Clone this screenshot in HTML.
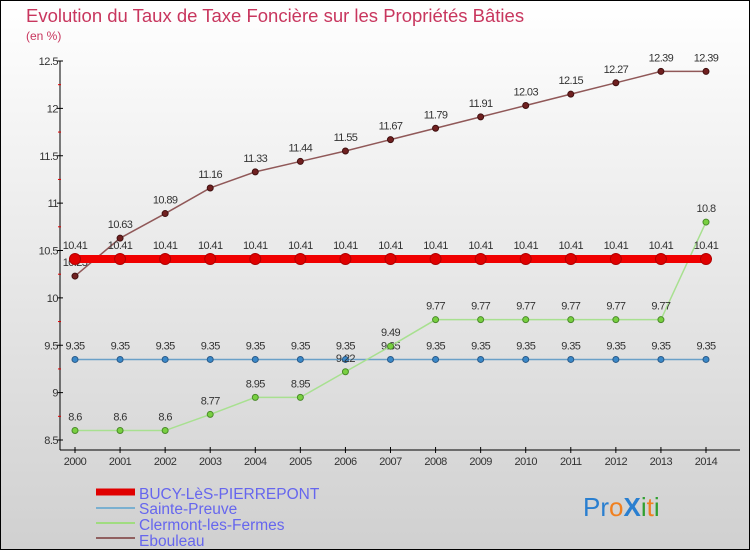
<!DOCTYPE html>
<html><head><meta charset="utf-8"><style>
body{margin:0}
svg{display:block;font-family:"Liberation Sans",sans-serif}
</style></head><body>
<svg id="c" width="750" height="550" viewBox="0 0 750 550">
<defs><linearGradient id="bg" x1="0" y1="0" x2="0" y2="1"><stop offset="0" stop-color="#ffffff"/><stop offset="1" stop-color="#d0d0d0"/></linearGradient></defs>
<rect x="0.5" y="0.5" width="749" height="549" fill="url(#bg)" stroke="#000"/>
<text x="26" y="22" font-size="18.5" fill="#c8365e">Evolution du Taux de Taxe Foncière sur les Propriétés Bâties</text>
<text x="26" y="40" font-size="12" fill="#c8365e">(en %)</text>
<g id="axes"></g>
<g id="series"></g>
<g>
<line x1="96" y1="492" x2="135" y2="492" stroke="#e00000" stroke-width="7"/>
<text x="139" y="499" font-size="15.5" fill="#6666ee">BUCY-LèS-PIERREPONT</text>
<line x1="96" y1="508" x2="135" y2="508" stroke="#7ab0d0" stroke-width="2"/>
<text x="139" y="514" font-size="15.5" fill="#6666ee">Sainte-Preuve</text>
<line x1="96" y1="523" x2="135" y2="523" stroke="#a0dc80" stroke-width="2"/>
<text x="139" y="530" font-size="15.5" fill="#6666ee">Clermont-les-Fermes</text>
<line x1="96" y1="538" x2="135" y2="538" stroke="#906060" stroke-width="2"/>
<text x="139" y="546" font-size="15.5" fill="#6666ee">Ebouleau</text>
</g>
<text x="583" y="516" font-size="26"><tspan fill="#2a7fd0">Pr</tspan><tspan fill="#f08020">o</tspan><tspan fill="#2a7fd0" font-weight="bold">X</tspan><tspan fill="#30a030">i</tspan><tspan fill="#f08020">t</tspan><tspan fill="#30a030">i</tspan></text>
</svg>
<script>
const years=[2000,2001,2002,2003,2004,2005,2006,2007,2008,2009,2010,2011,2012,2013,2014];
const bucy=[10.41,10.41,10.41,10.41,10.41,10.41,10.41,10.41,10.41,10.41,10.41,10.41,10.41,10.41,10.41];
const sainte=[9.35,9.35,9.35,9.35,9.35,9.35,9.35,9.35,9.35,9.35,9.35,9.35,9.35,9.35,9.35];
const clermont=[8.6,8.6,8.6,8.77,8.95,8.95,9.22,9.49,9.77,9.77,9.77,9.77,9.77,9.77,10.8];
const ebouleau=[10.23,10.63,10.89,11.16,11.33,11.44,11.55,11.67,11.79,11.91,12.03,12.15,12.27,12.39,12.39];
const yTicks=[8.5,9,9.5,10,10.5,11,11.5,12,12.5];
const NS="http://www.w3.org/2000/svg";
const X=i=>75+i*(706-75)/14;
const Y=v=>440-(v-8.5)*(440-61)/4;
function mk(t,a,p){const e=document.createElementNS(NS,t);for(const k in a)e.setAttribute(k,a[k]);p.appendChild(e);return e;}
const ax=document.getElementById('axes');
const ya=mk('line',{x1:60,y1:61,x2:60,y2:450,stroke:'#000'},ax);


const xa=mk('line',{x1:60,y1:450,x2:740,y2:450,stroke:'#000'},ax);


yTicks.forEach((v,i)=>{
  mk('line',{x1:57,y1:Y(v),x2:63,y2:Y(v),stroke:'#000'},ax);
  if(i<yTicks.length-1){mk('line',{x1:58,y1:Y(v+0.25),x2:61,y2:Y(v+0.25),stroke:'#e00000'},ax);}
  const t=mk('text',{x:58,y:Y(v)+4,'font-size':11,fill:'#333','text-anchor':'end','letter-spacing':'-0.5'},ax);
  t.textContent=String(v);
  
  
});
years.forEach((yr,i)=>{
  mk('line',{x1:X(i),y1:447,x2:X(i),y2:453,stroke:'#000'},ax);
  const t=mk('text',{x:X(i),y:465,'font-size':11,fill:'#333','text-anchor':'middle','letter-spacing':'-0.5'},ax);
  t.textContent=String(yr);
  
  
});
const sg=document.getElementById('series');
function series(name,vals,line,w,dot,dotStroke,r){
  const g=mk('g',{},sg);
  
  
  const pl=mk('polyline',{points:vals.map((v,i)=>X(i)+','+Y(v)).join(' '),fill:'none',stroke:line,'stroke-width':w},g);
  
  
  vals.forEach((v,i)=>{
    const c=mk('circle',{cx:X(i),cy:Y(v),r:r,fill:dot,stroke:dotStroke,'stroke-width':1},g);
    
    
    const t=mk('text',{x:X(i),y:Y(v)-10,'font-size':11,fill:'#333','text-anchor':'middle','letter-spacing':'-0.6'},g);
    t.textContent=String(v);
    
    
  });
}
series('sainte-preuve',sainte,'#6aa0c8',1.5,'#3a88c8','#2a5a88',3);
series('clermont',clermont,'#a8e090',1.5,'#78d040','#4a8a2a',3);
series('ebouleau',ebouleau,'#905858',1.5,'#702020','#401010',3);
series('bucy',bucy,'#f00000',8,'#e00000','#b00000',5.5);
</script>
</body></html>
